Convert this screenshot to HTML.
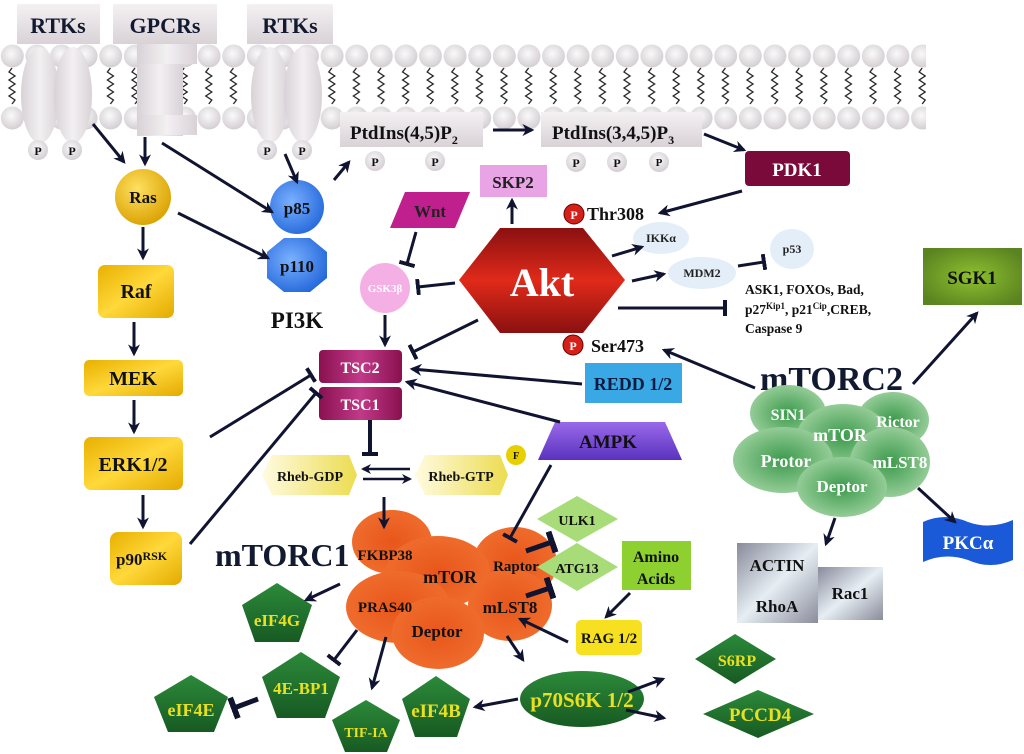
<!DOCTYPE html>
<html><head><meta charset="utf-8"><style>
html,body{margin:0;padding:0;background:#fff;width:1024px;height:754px;overflow:hidden}
svg{display:block}
text{font-family:"Liberation Serif",serif;font-weight:bold}
</style></head><body>
<svg width="1024" height="754" viewBox="0 0 1024 754" xmlns="http://www.w3.org/2000/svg">
<defs>
<radialGradient id="head" cx="0.45" cy="0.4" r="0.6"><stop offset="0" stop-color="#fafafa"/><stop offset="1" stop-color="#d4ced2"/></radialGradient>
<linearGradient id="rec" x1="0" y1="0" x2="1" y2="0"><stop offset="0" stop-color="#d8d2d6"/><stop offset="0.5" stop-color="#f3f0f2"/><stop offset="1" stop-color="#d8d2d6"/></linearGradient>
<linearGradient id="box" x1="0" y1="0" x2="0" y2="1"><stop offset="0" stop-color="#f4f1f3"/><stop offset="1" stop-color="#d9d2d6"/></linearGradient>
<pattern id="mem" x="0" y="40" width="24.6" height="92" patternUnits="userSpaceOnUse">
<circle cx="12.3" cy="16" r="11.5" fill="url(#head)"/>
<circle cx="12.3" cy="78" r="11.5" fill="url(#head)"/>
<path d="M12 28 l-3 4 l6 4 l-6 4 l6 4 l-6 4 l6 4 l-6 4 l6 4 l-3 4" fill="none" stroke="#222" stroke-width="1.3"/>
</pattern>
<radialGradient id="ras" cx="0.4" cy="0.35" r="0.7"><stop offset="0" stop-color="#ffe060"/><stop offset="1" stop-color="#d9a000"/></radialGradient>
<linearGradient id="yel" x1="0" y1="0" x2="1" y2="1"><stop offset="0" stop-color="#e8b000"/><stop offset="0.5" stop-color="#ffd83a"/><stop offset="1" stop-color="#e3aa00"/></linearGradient>
<radialGradient id="blue" cx="0.4" cy="0.4" r="0.7"><stop offset="0" stop-color="#7ab0ff"/><stop offset="1" stop-color="#1f64d8"/></radialGradient>
<linearGradient id="akt" x1="0" y1="0" x2="0" y2="1"><stop offset="0" stop-color="#8a1010"/><stop offset="0.5" stop-color="#e02a1a"/><stop offset="1" stop-color="#8a1010"/></linearGradient>
<linearGradient id="tsc" x1="0" y1="0" x2="1" y2="0"><stop offset="0" stop-color="#8a1050"/><stop offset="0.5" stop-color="#c03a88"/><stop offset="1" stop-color="#8a1050"/></linearGradient>
<linearGradient id="rheb" x1="0" y1="0" x2="1" y2="0"><stop offset="0" stop-color="#fffbe0"/><stop offset="1" stop-color="#ecdc50"/></linearGradient>
<radialGradient id="org" cx="0.5" cy="0.5" r="0.6"><stop offset="0" stop-color="#e8561a"/><stop offset="1" stop-color="#f07030"/></radialGradient>
<radialGradient id="g2" cx="0.5" cy="0.5" r="0.6"><stop offset="0" stop-color="#3c9a4c"/><stop offset="1" stop-color="#a6d6a6"/></radialGradient>
<linearGradient id="dg" x1="0" y1="0" x2="0" y2="1"><stop offset="0" stop-color="#2c8a3a"/><stop offset="1" stop-color="#175a22"/></linearGradient>
<linearGradient id="gray" x1="0" y1="0" x2="1" y2="1"><stop offset="0" stop-color="#888a9a"/><stop offset="0.5" stop-color="#e6eef4"/><stop offset="1" stop-color="#8a8c9a"/></linearGradient>
<radialGradient id="sgk" cx="0.5" cy="0.5" r="0.6"><stop offset="0" stop-color="#8ec030"/><stop offset="1" stop-color="#5a8420"/></radialGradient>
<linearGradient id="ampk" x1="0" y1="0" x2="0" y2="1"><stop offset="0" stop-color="#9a6ae8"/><stop offset="1" stop-color="#5a32c0"/></linearGradient>
<marker id="a" viewBox="0 0 10 10" refX="8" refY="5" markerWidth="4" markerHeight="4" orient="auto" markerUnits="strokeWidth"><path d="M0 0 L10 5 L0 10 L3 5z" fill="#101430"/></marker>
<marker id="t" viewBox="0 0 4 16" refX="2" refY="8" markerWidth="4" markerHeight="16" orient="auto" markerUnits="userSpaceOnUse"><rect x="0" y="0" width="4" height="16" fill="#101430"/></marker>
<marker id="tt" viewBox="0 0 6 22" refX="3" refY="11" markerWidth="6" markerHeight="22" orient="auto" markerUnits="userSpaceOnUse"><rect x="0" y="0" width="6" height="22" fill="#101430"/></marker>
</defs>

<rect x="0" y="40" width="926" height="92" fill="url(#mem)"/>
<g fill="url(#rec)">
<ellipse cx="40" cy="95" rx="19" ry="48"/><ellipse cx="73" cy="95" rx="19" ry="48"/>
<rect x="137" y="44" width="46" height="92"/><rect x="137" y="44" width="60" height="20"/><rect x="137" y="115" width="60" height="20"/>
<ellipse cx="270" cy="95" rx="19" ry="48"/><ellipse cx="303" cy="95" rx="19" ry="48"/>
</g>
<rect x="17" y="4" width="83" height="40" fill="url(#box)"/>
<rect x="113" y="4" width="104" height="40" fill="url(#box)"/>
<rect x="247" y="4" width="86" height="40" fill="url(#box)"/>
<g font-size="22" fill="#111a30" text-anchor="middle">
<text x="58" y="33">RTKs</text><text x="165" y="33">GPCRs</text><text x="290" y="33">RTKs</text></g>
<g fill="url(#head)"><circle cx="38" cy="150" r="10"/><circle cx="72" cy="150" r="10"/><circle cx="267" cy="150" r="10"/><circle cx="302" cy="150" r="10"/>
<circle cx="375" cy="161" r="10"/><circle cx="435" cy="161" r="10"/><circle cx="576" cy="162" r="10"/><circle cx="617" cy="162" r="10"/><circle cx="659" cy="162" r="10"/></g>
<g font-size="12" fill="#111" text-anchor="middle"><text x="38" y="155">P</text><text x="72" y="155">P</text><text x="267" y="155">P</text><text x="302" y="155">P</text>
<text x="375" y="166">P</text><text x="435" y="166">P</text><text x="576" y="167">P</text><text x="617" y="167">P</text><text x="659" y="166" font-size="11">P</text></g>
<rect x="340" y="112" width="143" height="35" fill="url(#box)"/>
<rect x="541" y="112" width="161" height="35" fill="url(#box)"/>
<text x="350" y="139" font-size="19" fill="#111">PtdIns(4,5)P<tspan font-size="12" dy="5">2</tspan></text>
<text x="552" y="139" font-size="19" fill="#111">PtdIns(3,4,5)P<tspan font-size="12" dy="5">3</tspan></text>

<circle cx="143" cy="197" r="28" fill="url(#ras)"/><text x="143" y="203" font-size="17" text-anchor="middle" fill="#111">Ras</text>
<rect x="98" y="265" width="76" height="53" rx="7" fill="url(#yel)"/><text x="136" y="298" font-size="20" text-anchor="middle" fill="#111">Raf</text>
<rect x="84" y="360" width="99" height="36" rx="5" fill="url(#yel)"/><text x="133" y="385" font-size="20" text-anchor="middle" fill="#111">MEK</text>
<rect x="84" y="437" width="99" height="53" rx="7" fill="url(#yel)"/><text x="133" y="471" font-size="20" text-anchor="middle" fill="#111">ERK1/2</text>
<rect x="110" y="532" width="72" height="53" rx="8" fill="url(#yel)"/><text x="116" y="565" font-size="17" fill="#111">p90<tspan font-size="12" dy="-5">RSK</tspan></text>

<circle cx="297" cy="207" r="27" fill="url(#blue)"/>
<polygon points="284,238 310,238 327,252 327,278 310,292 284,292 267,278 267,252" fill="url(#blue)"/>
<text x="297" y="214" font-size="17" text-anchor="middle" fill="#111">p85</text>
<text x="297" y="272" font-size="17" text-anchor="middle" fill="#111">p110</text>
<text x="297" y="328" font-size="23" text-anchor="middle" fill="#111">PI3K</text>

<rect x="745" y="151" width="105" height="35" rx="4" fill="#7a0a3a"/><text x="797" y="176" font-size="19" text-anchor="middle" fill="#fff">PDK1</text>
<rect x="480" y="165" width="67" height="32" fill="#e8a4e4"/><text x="513" y="188" font-size="17" text-anchor="middle" fill="#222">SKP2</text>
<polygon points="405,192 470,192 455,228 390,228" fill="#c0208e"/><text x="430" y="217" font-size="17" text-anchor="middle" fill="#222">Wnt</text>
<circle cx="385" cy="288" r="25" fill="#f4b0e4"/><text x="385" y="292" font-size="11" text-anchor="middle" fill="#fff">GSK3β</text>

<polygon points="459,280 500,228 583,228 625,280 583,333 500,333" fill="url(#akt)"/>
<text x="542" y="296" font-size="40" text-anchor="middle" fill="#fff">Akt</text>
<circle cx="574" cy="214" r="10" fill="#d42018" stroke="#600" stroke-width="1"/><text x="574" y="219" font-size="12" text-anchor="middle" fill="#fff">P</text>
<text x="587" y="220" font-size="18" fill="#111">Thr308</text>
<circle cx="573" cy="345" r="10" fill="#d42018" stroke="#600" stroke-width="1"/><text x="573" y="350" font-size="12" text-anchor="middle" fill="#fff">P</text>
<text x="591" y="352" font-size="18" fill="#111">Ser473</text>

<ellipse cx="661" cy="238" rx="28" ry="16" fill="#e4eef8"/><text x="661" y="242" font-size="12" text-anchor="middle" fill="#222">IKKα</text>
<ellipse cx="702" cy="273" rx="34" ry="16" fill="#e4eef8"/><text x="702" y="277" font-size="12" text-anchor="middle" fill="#222">MDM2</text>
<ellipse cx="792" cy="249" rx="22" ry="20" fill="#e4eef8"/><text x="792" y="253" font-size="12" text-anchor="middle" fill="#222">p53</text>
<g font-size="13.5" fill="#111"><text x="745" y="294">ASK1, FOXOs, Bad,</text>
<text x="745" y="314">p27<tspan font-size="9" dy="-5">Kip1</tspan><tspan dy="5">, p21</tspan><tspan font-size="9" dy="-5">Cip</tspan><tspan dy="5">,CREB,</tspan></text>
<text x="745" y="333">Caspase 9</text></g>
<rect x="923" y="248" width="99" height="57" fill="url(#sgk)"/><text x="972" y="284" font-size="19" text-anchor="middle" fill="#111">SGK1</text>

<rect x="319" y="350" width="83" height="33" rx="4" fill="url(#tsc)"/><text x="360" y="373" font-size="16" text-anchor="middle" fill="#fff">TSC2</text>
<rect x="319" y="387" width="83" height="33" rx="4" fill="url(#tsc)"/><text x="360" y="410" font-size="16" text-anchor="middle" fill="#fff">TSC1</text>
<rect x="585" y="363" width="97" height="40" fill="#3aa8e4"/><text x="633" y="390" font-size="18" text-anchor="middle" fill="#0a1a40">REDD 1/2</text>
<polygon points="555,422 665,422 682,460 538,460" fill="url(#ampk)"/><text x="608" y="448" font-size="19" text-anchor="middle" fill="#111">AMPK</text>

<polygon points="272,455 349,455 357,475 349,495 272,495 262,475" fill="url(#rheb)"/><text x="310" y="481" font-size="14" text-anchor="middle" fill="#111">Rheb-GDP</text>
<polygon points="425,455 500,455 508,475 500,495 425,495 415,475" fill="url(#rheb)"/><text x="461" y="481" font-size="14" text-anchor="middle" fill="#111">Rheb-GTP</text>
<circle cx="516" cy="455" r="10" fill="#e8d000"/><text x="516" y="459" font-size="10" text-anchor="middle" fill="#111">F</text>

<text x="215" y="566" font-size="32" fill="#111a30">mTORC1</text>
<g fill="url(#org)">
<ellipse cx="392" cy="542" rx="40" ry="32"/><ellipse cx="515" cy="563" rx="42" ry="36"/><ellipse cx="438" cy="572" rx="52" ry="36"/>
<ellipse cx="398" cy="607" rx="52" ry="36"/><ellipse cx="510" cy="605" rx="42" ry="36"/><ellipse cx="438" cy="633" rx="46" ry="36"/></g>
<g font-size="15" fill="#111" text-anchor="middle"><text x="385" y="560">FKBP38</text><text x="450" y="583" font-size="18">mTOR</text><text x="516" y="571">Raptor</text>
<text x="385" y="612">PRAS40</text><text x="510" y="613" font-size="17">mLST8</text><text x="437" y="637" font-size="17">Deptor</text></g>

<polygon points="577,496 618,519 577,542 537,519" fill="#a8dc78"/><text x="577" y="525" font-size="14" text-anchor="middle" fill="#111">ULK1</text>
<polygon points="577,543 618,567 577,591 537,567" fill="#a8dc78"/><text x="577" y="573" font-size="14" text-anchor="middle" fill="#111">ATG13</text>
<rect x="622" y="541" width="69" height="49" fill="#8ed030"/><text x="656" y="562" font-size="16" text-anchor="middle" fill="#111">Amino</text><text x="656" y="584" font-size="16" text-anchor="middle" fill="#111">Acids</text>
<rect x="576" y="620" width="66" height="35" rx="5" fill="#f6e020"/><text x="609" y="643" font-size="15" text-anchor="middle" fill="#111">RAG 1/2</text>

<text x="760" y="390" font-size="34" fill="#111a30">mTORC2</text>
<g fill="url(#g2)">
<ellipse cx="788" cy="413" rx="38" ry="28"/><ellipse cx="893" cy="420" rx="36" ry="28"/><ellipse cx="843" cy="436" rx="46" ry="32"/>
<ellipse cx="783" cy="460" rx="50" ry="33"/><ellipse cx="890" cy="462" rx="40" ry="35"/><ellipse cx="842" cy="487" rx="45" ry="30"/></g>
<g font-size="16" fill="#fff" text-anchor="middle"><text x="788" y="420">SIN1</text><text x="898" y="427">Rictor</text><text x="840" y="441" font-size="18">mTOR</text>
<text x="786" y="467" font-size="18">Protor</text><text x="900" y="468" font-size="17">mLST8</text><text x="842" y="492" font-size="17">Deptor</text></g>

<rect x="737" y="543" width="81" height="80" fill="url(#gray)"/>
<rect x="818" y="567" width="65" height="53" fill="url(#gray)"/>
<g font-size="17" fill="#111" text-anchor="middle"><text x="777" y="571">ACTIN</text><text x="777" y="612">RhoA</text><text x="850" y="599">Rac1</text></g>
<path d="M923 522 Q945 512 968 522 Q990 530 1013 520 L1013 560 Q990 570 968 560 Q945 552 923 562 Z" fill="#1a5ad8"/>
<text x="968" y="549" font-size="19" text-anchor="middle" fill="#fff">PKCα</text>

<g fill="url(#dg)">
<polygon points="277,583 312,605 299,642 255,642 242,605"/>
<polygon points="301,652 340,677 325,718 277,718 262,677"/>
<polygon points="366,700 400,720 387,752 345,752 332,720"/>
<polygon points="436,676 470,699 457,737 415,737 402,699"/>
<polygon points="191,675 228,697 214,732 168,732 154,697"/>
<ellipse cx="582" cy="699" rx="62" ry="28"/>
<polygon points="735,634 776,659 735,684 695,659"/>
<polygon points="758,690 814,714 758,738 703,714"/></g>
<g font-size="15" fill="#e8e020" text-anchor="middle"><text x="277" y="626" font-size="17">eIF4G</text><text x="301" y="694" font-size="17">4E-BP1</text><text x="366" y="737" font-size="14">TIF-IA</text>
<text x="436" y="717" font-size="19">eIF4B</text><text x="191" y="716" font-size="18">eIF4E</text><text x="582" y="707" font-size="21">p70S6K 1/2</text>
<text x="737" y="666" font-size="16">S6RP</text><text x="760" y="721" font-size="19">PCCD4</text></g>

<g stroke="#101430" stroke-width="3" fill="none">
<line x1="93" y1="124" x2="124" y2="162" marker-end="url(#a)"/>
<line x1="145" y1="137" x2="145" y2="164" marker-end="url(#a)"/>
<line x1="162" y1="143" x2="272" y2="212" marker-end="url(#a)"/>
<line x1="178" y1="213" x2="268" y2="258" marker-end="url(#a)"/>
<line x1="143" y1="227" x2="143" y2="258" marker-end="url(#a)"/>
<line x1="134" y1="322" x2="134" y2="354" marker-end="url(#a)"/>
<line x1="134" y1="400" x2="134" y2="432" marker-end="url(#a)"/>
<line x1="143" y1="495" x2="143" y2="527" marker-end="url(#a)"/>
<line x1="285" y1="154" x2="297" y2="182" marker-end="url(#a)"/>
<line x1="334" y1="180" x2="349" y2="162" marker-end="url(#a)"/>
<line x1="493" y1="130" x2="532" y2="130" marker-end="url(#a)"/>
<line x1="704" y1="134" x2="744" y2="150" marker-end="url(#a)"/>
<line x1="742" y1="191" x2="660" y2="213" marker-end="url(#a)"/>
<line x1="512" y1="224" x2="512" y2="200" marker-end="url(#a)"/>
<line x1="416" y1="232" x2="407" y2="264" marker-end="url(#t)"/>
<line x1="455" y1="283" x2="418" y2="287" marker-end="url(#t)"/>
<line x1="385" y1="315" x2="385" y2="345" marker-end="url(#a)"/>
<line x1="478" y1="320" x2="413" y2="352" marker-end="url(#t)"/>
<line x1="582" y1="384" x2="412" y2="369" marker-end="url(#a)"/>
<line x1="560" y1="422" x2="407" y2="382" marker-end="url(#a)"/>
<line x1="210" y1="437" x2="311" y2="375" marker-end="url(#t)"/>
<line x1="190" y1="544" x2="316" y2="393" marker-end="url(#t)"/>
<line x1="370" y1="420" x2="370" y2="454" marker-end="url(#t)" stroke-width="4"/>
<line x1="410" y1="469" x2="363" y2="469" marker-end="url(#a)" stroke-width="2.5"/>
<line x1="363" y1="479" x2="410" y2="479" marker-end="url(#a)" stroke-width="2.5"/>
<line x1="384" y1="497" x2="384" y2="527" marker-end="url(#a)"/>
<line x1="551" y1="465" x2="510" y2="538" marker-end="url(#t)"/>
<line x1="526" y1="551" x2="552" y2="542" marker-end="url(#tt)" stroke-width="5"/>
<line x1="526" y1="596" x2="550" y2="588" marker-end="url(#tt)" stroke-width="5"/>
<line x1="630" y1="593" x2="606" y2="617" marker-end="url(#a)"/>
<line x1="568" y1="642" x2="520" y2="619" marker-end="url(#a)"/>
<line x1="340" y1="584" x2="306" y2="600" marker-end="url(#a)"/>
<line x1="357" y1="630" x2="334" y2="660" marker-end="url(#t)"/>
<line x1="386" y1="637" x2="372" y2="688" marker-end="url(#a)"/>
<line x1="507" y1="636" x2="523" y2="660" marker-end="url(#a)"/>
<line x1="518" y1="699" x2="475" y2="707" marker-end="url(#a)"/>
<line x1="628" y1="692" x2="663" y2="679" marker-end="url(#a)"/>
<line x1="626" y1="710" x2="664" y2="718" marker-end="url(#a)"/>
<line x1="258" y1="699" x2="234" y2="708" marker-end="url(#tt)" stroke-width="5"/>
<line x1="612" y1="256" x2="642" y2="247" marker-end="url(#a)"/>
<line x1="632" y1="281" x2="664" y2="274" marker-end="url(#a)"/>
<line x1="738" y1="266" x2="764" y2="262" marker-end="url(#t)"/>
<line x1="618" y1="308" x2="725" y2="308" marker-end="url(#t)"/>
<line x1="755" y1="388" x2="664" y2="350" marker-end="url(#a)"/>
<line x1="913" y1="384" x2="977" y2="313" marker-end="url(#a)"/>
<line x1="918" y1="488" x2="955" y2="522" marker-end="url(#a)"/>
<line x1="835" y1="518" x2="826" y2="544" marker-end="url(#a)"/>
</g>
</svg>
</body></html>
